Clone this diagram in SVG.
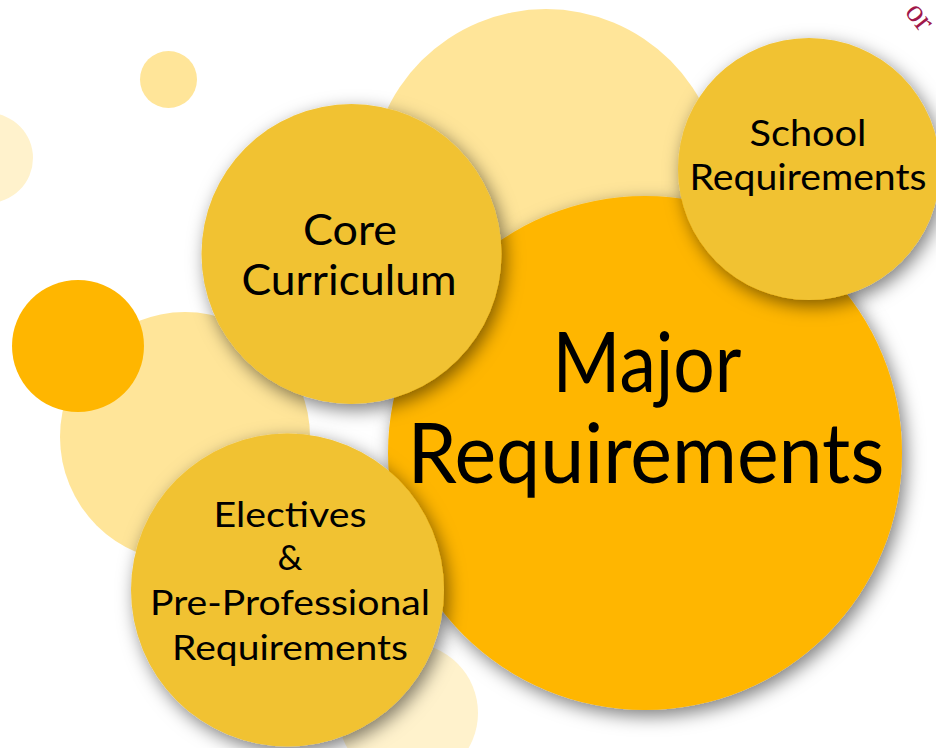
<svg xmlns="http://www.w3.org/2000/svg" width="936" height="748" viewBox="0 0 936 748">
<defs>
<filter id="sh" x="-30%" y="-30%" width="160%" height="160%">
<feDropShadow dx="4" dy="6" stdDeviation="9" flood-color="#000" flood-opacity="0.5"/>
</filter>
<style>
.pale{fill:#FFF2CC}
.light{fill:#FFE599}
.gold{fill:#F1C232;filter:url(#sh)}
.major{fill:#FFB600;filter:url(#sh)}
.orange{fill:#FFB600}
text{font-family:"Lato","Open Sans","Liberation Sans",sans-serif;fill:#000;text-anchor:middle}
.t1{font-size:42px}
.t2{font-size:36px}
.t3{font-size:35px}
.tm{font-size:83px}
</style>
</defs>
<rect width="936" height="748" fill="#fff"/>
<g id="decor">
<circle class="pale" cx="-12" cy="158" r="45"/>
<circle class="light" cx="168.5" cy="79.5" r="28.5"/>
<circle class="light" cx="546" cy="185" r="176"/>
<circle class="light" cx="185" cy="437" r="125"/>
<circle class="orange" cx="78" cy="346" r="66"/>
<circle class="pale" cx="408" cy="713" r="70"/>
<text transform="translate(904,12) rotate(52)" style="font-family:'Liberation Serif',serif;font-size:32px;fill:#A0174A;text-anchor:start">or</text>
</g>
<g id="connectors"></g>
<g id="major">
<circle class="major" cx="645" cy="453" r="257"/>
<text class="tm" x="647" y="392" textLength="189" lengthAdjust="spacingAndGlyphs">Major</text>
<text class="tm" x="646" y="483" textLength="477" lengthAdjust="spacingAndGlyphs">Requirements</text>
</g>
<g id="core">
<circle class="gold" cx="351.5" cy="254" r="150"/>
<text class="t1" x="350" y="245" textLength="94" lengthAdjust="spacingAndGlyphs">Core</text>
<text class="t1" x="349" y="295" textLength="215" lengthAdjust="spacingAndGlyphs">Curriculum</text>
</g>
<g id="school">
<circle class="gold" cx="809" cy="169" r="131"/>
<text class="t2" x="808" y="146" textLength="117" lengthAdjust="spacingAndGlyphs">School</text>
<text class="t2" x="808" y="190" textLength="237" lengthAdjust="spacingAndGlyphs">Requirements</text>
</g>
<g id="electives">
<circle class="gold" cx="287.5" cy="590" r="156.5"/>
<text class="t3" x="290" y="527" textLength="153" lengthAdjust="spacingAndGlyphs">Electives</text>
<text class="t3" x="290" y="570">&amp;</text>
<text class="t3" x="290" y="615" textLength="280" lengthAdjust="spacingAndGlyphs">Pre-Professional</text>
<text class="t3" x="290" y="660" textLength="236" lengthAdjust="spacingAndGlyphs">Requirements</text>
</g>
</svg>
